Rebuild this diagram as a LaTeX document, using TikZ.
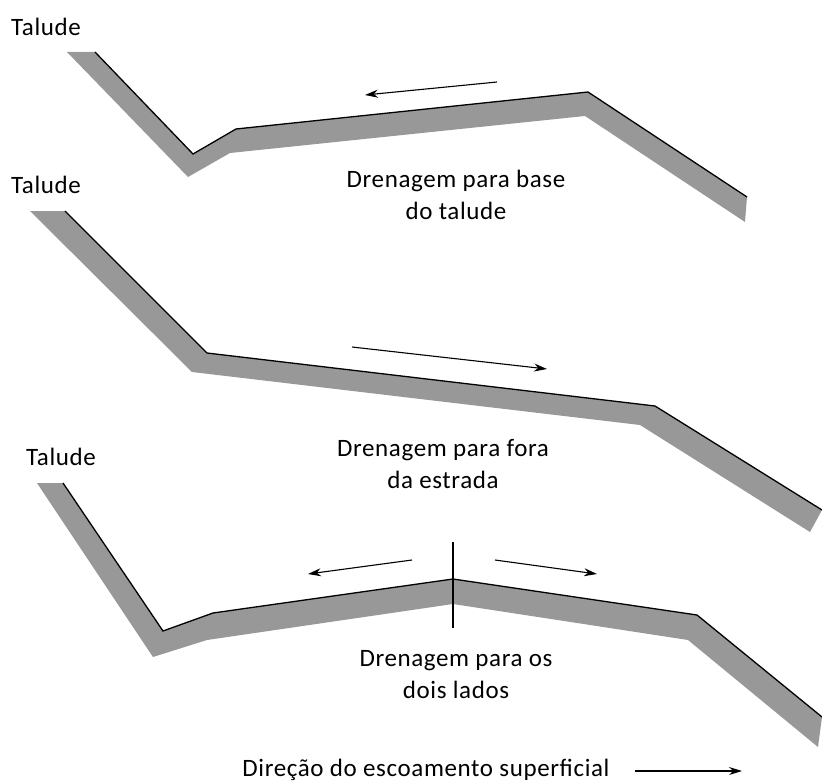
\documentclass[tikz,border=0pt]{standalone}
\usepackage{fontspec}
\setmainfont[LetterSpace=2.5]{Carlito}
\usetikzlibrary{arrows.meta}
\definecolor{bandgray}{RGB}{152,152,152}
\begin{document}
\begin{tikzpicture}[x=1pt,y=-1pt,
  band/.style={fill=bandgray,draw=none},
  surface/.style={draw=black,line width=1.3pt,line join=miter},
  flow/.style={draw=black,line width=1.1pt,-{Stealth[length=13pt,width=8pt]}},
  lbl/.style={font=\fontsize{25}{32}\selectfont,align=center,inner sep=0pt},
]
\useasboundingbox (0,0) rectangle (822,784);

% ---- profile 1: drainage toward the slope base
\fill[band] (95,52) -- (193,154) -- (236,129) -- (588,92) -- (747,197)
  -- (745,222) -- (585,116) -- (230,153) -- (188,177) -- (67,52) -- cycle;
\draw[surface] (95,52) -- (193,154) -- (236,129) -- (588,92) -- (747,197);

% ---- profile 2: drainage away from the road
\fill[band] (65,211) -- (207,353) -- (655,406) -- (822,510)
  -- (810,532) -- (640,425) -- (192,372) -- (30,211) -- cycle;
\draw[surface] (65,211) -- (207,353) -- (655,406) -- (822,510);

% ---- profile 3: drainage to both sides
\fill[band] (63,483) -- (163,631) -- (213,613) -- (453,579) -- (697,615) -- (822,717)
  -- (818,747) -- (688,640) -- (453,604) -- (207,640) -- (153,657) -- (37,483) -- cycle;
\draw[surface] (63,483) -- (163,631) -- (213,613) -- (453,579) -- (697,615) -- (822,717);
\coordinate (crestTop) at (453,542);
\coordinate (crestBot) at (453,628);
\draw[line width=1.3pt] (crestTop) -- (crestBot);

% ---- flow arrows
\coordinate (f1a) at (497,82);  \coordinate (f1b) at (365,95);
\coordinate (f2a) at (352,347); \coordinate (f2b) at (547,369);
\coordinate (f3a) at (412,560); \coordinate (f3b) at (308,574);
\coordinate (f4a) at (495,560); \coordinate (f4b) at (597,574);
\coordinate (f5a) at (635,771); \coordinate (f5b) at (742,771);
\draw[flow] (f1a) -- (f1b);
\draw[flow] (f2a) -- (f2b);
\draw[flow] (f3a) -- (f3b);
\draw[flow] (f4a) -- (f4b);
\draw[flow] (f5a) -- (f5b);

% ---- labels
\node[lbl] (tal1) at (46,27) {Talude};
\node[lbl] (tal2) at (46,185) {Talude};
\node[lbl] (tal3) at (61,457) {Talude};
\node[lbl] (cap1) at (456,195) {Drenagem para base\\do talude};
\node[lbl] (cap2) at (443,464) {Drenagem para fora\\da estrada};
\node[lbl] (cap3) at (456,675) {Drenagem para os\\dois lados};
\node[lbl,anchor=base] (dir) at (426,776) {Direção do escoamento superficial};
\end{tikzpicture}
\end{document}
